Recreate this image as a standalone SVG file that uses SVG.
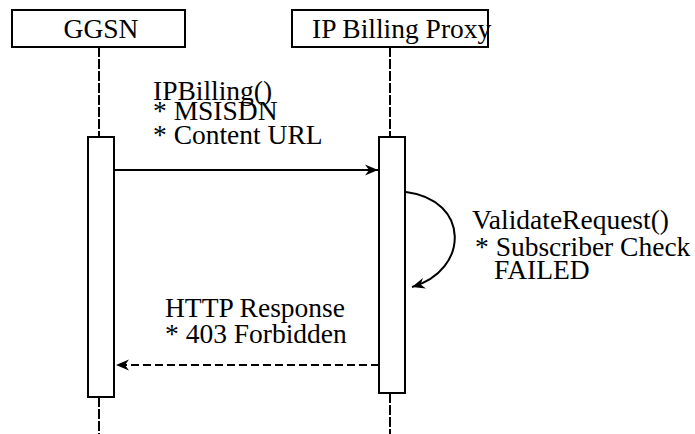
<svg xmlns="http://www.w3.org/2000/svg" width="695" height="434" viewBox="0 0 695 434">
<style>
text{font-family:'Liberation Serif','Times New Roman','DejaVu Serif',serif;font-size:27.5px;fill:#000}
.box{fill:#fff;stroke:#000;stroke-width:2}
.life{stroke:#000;stroke-width:2;stroke-dasharray:10 2;fill:none}
.msg{stroke:#000;stroke-width:2;fill:none}
.dash{stroke-dasharray:8 4}
</style>
<defs>
<marker id="ah" markerWidth="14" markerHeight="12" refX="13" refY="6" orient="auto" markerUnits="userSpaceOnUse">
<path d="M0,0.5 L13,6 L0,11.5 L4,6 z" fill="#000"/>
</marker>
</defs>
<g id="lifelines">
<line class="life" x1="99" y1="47" x2="99" y2="137"/>
<line class="life" x1="99" y1="397" x2="99" y2="434"/>
<line class="life" x1="390" y1="47" x2="390" y2="137"/>
<line class="life" x1="390" y1="393" x2="390" y2="434"/>
</g>
<g id="ggsn">
<rect class="box" x="12" y="10" width="173" height="37"/>
<text x="101" y="38" text-anchor="middle">GGSN</text>
</g>
<g id="proxy">
<rect class="box" x="292" y="10" width="196" height="37"/>
<text x="312" y="38">IP Billing Proxy</text>
</g>
<g id="ggsn-activation">
<rect class="box" x="88" y="137" width="26" height="260"/>
</g>
<g id="proxy-activation">
<rect class="box" x="379" y="137" width="26" height="256"/>
</g>
<g id="connectors">
<line class="msg" x1="114" y1="170" x2="378" y2="170" marker-end="url(#ah)"/>
<path class="msg" d="M406,192 C470,200 470,270 412,287" marker-end="url(#ah)"/>
<line class="msg dash" x1="379" y1="365" x2="116" y2="365" marker-end="url(#ah)"/>
</g>
<g id="labels">
<text x="153" y="100">IPBilling()</text>
<text x="153" y="120">* MSISDN</text>
<text x="153" y="144">* Content URL</text>
<text x="472" y="229">ValidateRequest()</text>
<text x="475" y="256">* Subscriber Check</text>
<text x="494" y="279">FAILED</text>
<text x="165" y="317">HTTP Response</text>
<text x="165" y="343">* 403 Forbidden</text>
</g>
</svg>
